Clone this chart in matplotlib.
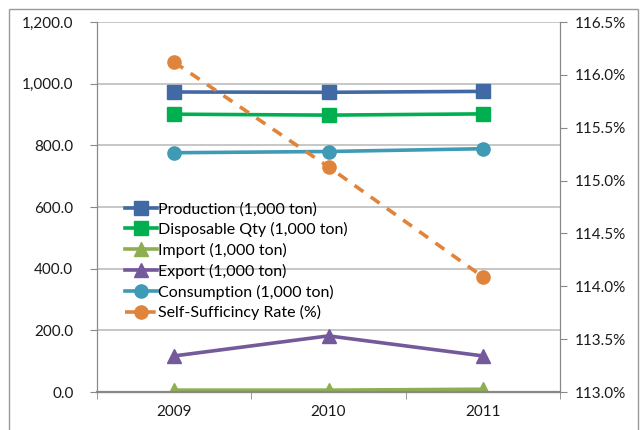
import matplotlib.pyplot as plt
from matplotlib.patches import Rectangle
from matplotlib.ticker import FuncFormatter, FixedLocator

plt.rcParams['font.family'] = ['Lato', 'DejaVu Sans']

years = ['2009', '2010', '2011']
production = [973, 972, 975]
disposable = [901, 898, 902]
imports = [6, 6, 9]
exports = [117, 182, 117]
consumption = [776, 780, 789]
self_rate = [116.12, 115.13, 114.09]

fig = plt.figure(figsize=(6.4, 4.3), dpi=100)
ax = fig.add_axes([97 / 640, 1 - 392 / 430, 463 / 640, 370 / 430])
ax2 = ax.twinx()

x = range(len(years))
lw = 2.6
l1, = ax.plot(x, production, color='#4169A3', lw=lw, marker='s', ms=9.5, label='Production (1,000 ton)')
l2, = ax.plot(x, disposable, color='#00B050', lw=lw, marker='s', ms=9.5, label='Disposable Qty (1,000 ton)')
l3, = ax.plot(x, imports, color='#8EAF4F', lw=lw, marker='^', ms=10.5, label='Import (1,000 ton)')
l4, = ax.plot(x, exports, color='#74599B', lw=lw, marker='^', ms=10.5, label='Export (1,000 ton)')
l5, = ax.plot(x, consumption, color='#3E9AB5', lw=lw, marker='o', ms=9.5, label='Consumption (1,000 ton)')
l6, = ax2.plot(x, self_rate, color='#E0843C', lw=lw, ls=(0, (3, 2.5)), marker='o', ms=9.5,
               label='Self-Sufficincy Rate (%)')

ax.set_xlim(-0.5, 2.5)
ax.set_ylim(0, 1200)
ax.set_yticks(range(0, 1201, 200))
ax.yaxis.set_major_formatter(FuncFormatter(lambda v, p: f'{v:,.1f}'))
ax2.set_ylim(113.0, 116.5)
ax2.set_yticks([113.0, 113.5, 114.0, 114.5, 115.0, 115.5, 116.0, 116.5])
ax2.yaxis.set_major_formatter(FuncFormatter(lambda v, p: f'{v:.1f}%'))

ax.set_xticks(list(x))
ax.set_xticklabels(years)
ax.xaxis.set_minor_locator(FixedLocator([-0.5, 0.5, 1.5, 2.5]))
ax.tick_params(axis='x', which='major', length=0, pad=9)
ax.tick_params(axis='x', which='minor', length=5, color='#888888')
ax.tick_params(axis='y', length=5, color='#888888', pad=12)
ax2.tick_params(axis='y', length=5, color='#888888', pad=6)
for a in (ax, ax2):
    a.tick_params(labelsize=11, labelcolor='#1a1a1a')

ax.grid(axis='y', color='#BDBDBD', lw=1.2)
ax.set_axisbelow(True)
for a in (ax, ax2):
    a.spines['top'].set_visible(False)
    for s in ('left', 'right', 'bottom'):
        a.spines[s].set_color('#888888')
ax.spines['bottom'].set_linewidth(1.6)

ax.legend(handles=[l1, l2, l3, l4, l5, l6], loc='upper left', bbox_to_anchor=(0.047, 0.531),
          frameon=False, fontsize=11.5, handlelength=2.0, handletextpad=0.05,
          labelspacing=0.36, borderaxespad=0)

fig.patches.append(Rectangle((9 / 640, -0.02), 629 / 640, 1.02 - 9 / 430, transform=fig.transFigure,
                             fill=False, edgecolor='#999999', lw=1))

fig.savefig('out.png', dpi=100)
